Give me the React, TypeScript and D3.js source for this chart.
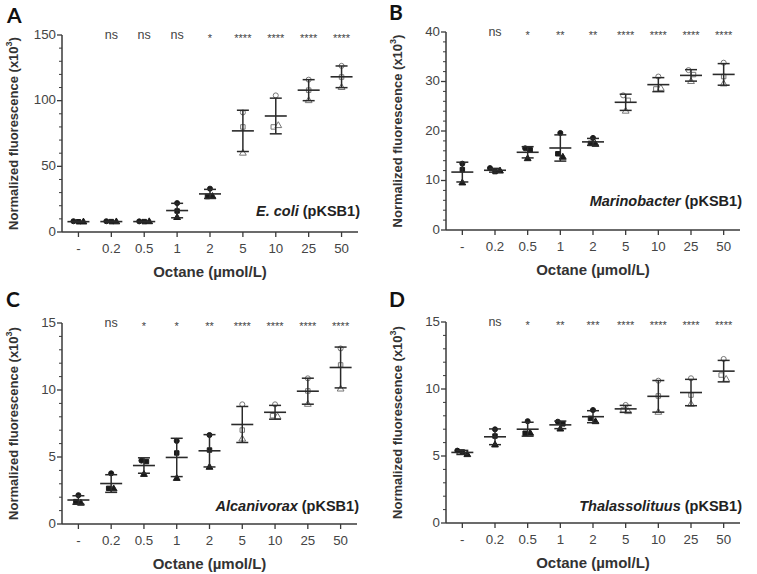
import React from "react";
import * as d3 from "d3";

const categories = ["-", "0.2", "0.5", "1", "2", "5", "10", "25", "50"];

const ecoliValues = [
  [8.2, 7.8, 7.6], [8.2, 7.9, 7.7], [8.1, 7.9, 7.8], [22, 16, 11], [33, 27, 27],
  [91, 80, 60], [104, 80, 81], [116, 108, 100], [126.5, 118, 110],
];
const marinobacterValues = [
  [13.4, 12.2, 9.5], [12.5, 11.8, 11.9], [16.5, 16.2, 14.4], [19.6, 15.4, 14.7], [18.6, 17.5, 17.3],
  [27.2, 26.2, 24.0], [31.0, 28.5, 28.6], [32.3, 31.4, 30.0], [33.8, 31.0, 29.5],
];
const alcanivoraxValues = [
  [2.15, 1.67, 1.55], [3.78, 2.66, 2.62], [4.73, 4.66, 3.7], [6.2, 5.3, 3.4], [6.64, 5.52, 4.23],
  [8.93, 7.01, 6.34], [8.93, 8.08, 8.0], [10.87, 9.93, 8.93], [13.1, 11.87, 10.07],
];
const thalassolituusValues = [
  [5.4, 5.3, 5.1], [6.99, 6.49, 5.82], [7.6, 6.7, 6.7], [7.56, 7.4, 7.01], [8.43, 7.81, 7.56],
  [8.81, 8.43, 8.31], [10.62, 9.48, 8.26], [10.8, 9.55, 8.86], [12.24, 11.04, 10.72],
];

const ecoliSig = ["", "ns", "ns", "ns", "*", "****", "****", "****", "****"];
const marinobacterSig = ["", "ns", "*", "**", "**", "****", "****", "****", "****"];
const alcanivoraxSig = ["", "ns", "*", "*", "**", "****", "****", "****", "****"];
const thalassolituusSig = ["", "ns", "*", "**", "***", "****", "****", "****", "****"];

const ecoliTicks = [0, 50, 100, 150];
const marinobacterTicks = [0, 10, 20, 30, 40];
const alcanivoraxTicks = [0, 5, 10, 15];
const thalassolituusTicks = [0, 5, 10, 15];

const panels = [
  { letter: "A", species: "E. coli", values: ecoliValues, sig: ecoliSig, ticks: ecoliTicks, minor: 10,
    x0: 62, x1: 358, yTop: 35, yBot: 232, lx: 7, ly: 23, ny: 15, sy: 216 },
  { letter: "B", species: "Marinobacter", values: marinobacterValues, sig: marinobacterSig, ticks: marinobacterTicks, minor: 2,
    x0: 446, x1: 740, yTop: 32, yBot: 230, lx: 389, ly: 20, ny: 399, sy: 206 },
  { letter: "C", species: "Alcanivorax", values: alcanivoraxValues, sig: alcanivoraxSig, ticks: alcanivoraxTicks, minor: 1,
    x0: 62, x1: 357, yTop: 323, yBot: 524, lx: 6, ly: 307, ny: 15, sy: 511 },
  { letter: "D", species: "Thalassolituus", values: thalassolituusValues, sig: thalassolituusSig, ticks: thalassolituusTicks, minor: 1,
    x0: 446, x1: 740, yTop: 322, yBot: 523, lx: 389, ly: 307, ny: 399, sy: 511 },
];

const FONT = "'Liberation Sans', Arial, sans-serif";
const AXIS = "#3a3a3a";
const TEXT = "#333";
const symbols = [d3.symbolCircle, d3.symbolSquare, d3.symbolTriangle];

function Panel({ p }: { p: any }) {
  const x = d3.scalePoint<string>().domain(categories).range([p.x0, p.x1]).padding(0.5);
  const maxV = p.ticks[p.ticks.length - 1];
  const y = d3.scaleLinear().domain([0, maxV]).range([p.yBot, p.yTop]);
  const minorTicks = d3.range(0, maxV + 1e-9, p.minor).filter((t: number) => !p.ticks.includes(t));
  const midY = (p.yTop + p.yBot) / 2;

  return (
    <g>
      <text x={p.lx} y={p.ly} fontFamily="Lato, 'Open Sans', sans-serif" fontWeight={700} fontSize={21} fill="#111">{p.letter}</text>
      <text transform={`translate(${p.ny},${midY}) rotate(-90)`} textAnchor="middle" dominantBaseline="middle"
        fontFamily={FONT} fontWeight={700} fontSize={13} fill={TEXT}>
        Normalized fluorescence (x10<tspan dy={-5} fontSize={9}>3</tspan><tspan dy={5}>)</tspan>
      </text>
      {/* y axis */}
      <line x1={p.x0} x2={p.x0} y1={p.yBot} y2={p.yTop} stroke={AXIS} strokeWidth={1.5} />
      {p.ticks.map((t: number) => (
        <g key={"t" + t}>
          <line x1={p.x0 - 5} x2={p.x0} y1={y(t)} y2={y(t)} stroke={AXIS} strokeWidth={1.3} />
          <text x={p.x0 - 6} y={y(t)} textAnchor="end" dominantBaseline="middle" fontFamily={FONT} fontSize={13.3} fill="#444">{t}</text>
        </g>
      ))}
      {minorTicks.map((t: number) => (
        <line key={"m" + t} x1={p.x0 - 3} x2={p.x0} y1={y(t)} y2={y(t)} stroke={AXIS} strokeWidth={1} />
      ))}
      {/* x axis */}
      <line x1={p.x0} x2={p.x1} y1={p.yBot} y2={p.yBot} stroke={AXIS} strokeWidth={1.5} />
      {categories.map((c) => (
        <g key={"x" + c}>
          <line x1={x(c)} x2={x(c)} y1={p.yBot} y2={p.yBot + 5} stroke={AXIS} strokeWidth={1.3} />
          <text x={x(c)} y={p.yBot + 21} textAnchor="middle" fontFamily={FONT} fontSize={13.3} fill="#444">{c}</text>
        </g>
      ))}
      <text x={(p.x0 + p.x1) / 2} y={p.yBot + 45} textAnchor="middle" fontFamily={FONT} fontWeight={700} fontSize={15} fill={TEXT}>
        Octane (µmol/L)
      </text>
      {/* significance */}
      {categories.map((c, i) => (
        <text key={"s" + c} x={x(c)} y={p.sig[i] === "ns" ? p.yTop + 4 : p.yTop + 7} textAnchor="middle" fontFamily={FONT}
          fontSize={p.sig[i] === "ns" ? 12.5 : 11} fill="#444">{p.sig[i]}</text>
      ))}
      {/* species label */}
      <text x={p.x1 + 2} y={p.sy} textAnchor="end" fontFamily={FONT} fontWeight={700} fontSize={14.5} fill="#222">
        <tspan fontStyle="italic">{p.species}</tspan> (pKSB1)
      </text>
      {/* data */}
      {categories.map((c, i) => {
        const vals: number[] = p.values[i];
        const m = d3.mean(vals) as number;
        const sd = d3.deviation(vals) as number;
        const cx = x(c) as number;
        const open = i >= 5;
        const col = open ? "#777" : "#1a1a1a";
        const ys = vals.map((v) => y(v));
        const offs = ys.map((yy, k) => {
          const near = ys.map((o, j) => (Math.abs(o - yy) < 5 ? j : -1)).filter((j) => j >= 0);
          if (near.length < 2) return 0;
          const idx = near.indexOf(k);
          return (idx - (near.length - 1) / 2) * 5;
        });
        return (
          <g key={"d" + c}>
            {vals.map((v, k) => (
              <path key={k} d={d3.symbol().type(symbols[k]).size(20)() as string}
                transform={`translate(${cx + offs[k]},${y(v)})`}
                fill={open ? "white" : col} stroke={col} strokeWidth={1} />
            ))}
            <line x1={cx} x2={cx} y1={y(m + sd)} y2={y(m - sd)} stroke="#2a2a2a" strokeWidth={1.5} />
            <line x1={cx - 6} x2={cx + 6} y1={y(m + sd)} y2={y(m + sd)} stroke="#2a2a2a" strokeWidth={1.5} />
            <line x1={cx - 6} x2={cx + 6} y1={y(m - sd)} y2={y(m - sd)} stroke="#2a2a2a" strokeWidth={1.5} />
            <line x1={cx - 11} x2={cx + 11} y1={y(m)} y2={y(m)} stroke="#2a2a2a" strokeWidth={1.6} />
          </g>
        );
      })}
    </g>
  );
}

export default function App() {
  return (
    <svg width={757} height={574} style={{ display: "block", position: "absolute", left: 0, top: 0, background: "white" }}>
      <rect width={757} height={574} fill="white" />
      {panels.map((p) => <Panel key={p.letter} p={p} />)}
    </svg>
  );
}
